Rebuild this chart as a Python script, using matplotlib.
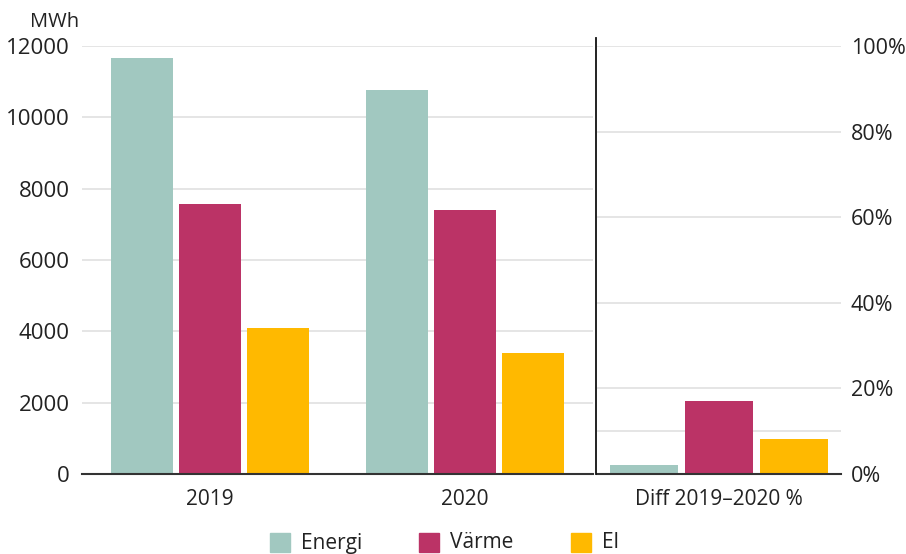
import numpy as np
import matplotlib
matplotlib.use("Agg")
import matplotlib.pyplot as plt
from matplotlib.patches import Rectangle
from matplotlib.lines import Line2D

plt.rcParams['font.family'] = ['Open Sans', 'DejaVu Sans']

years = ["2019", "2020"]
series = ["Energi", "Värme", "El"]
energi = [11650, 10770]
varme = [7570, 7400]
el = [4090, 3390]
diff_label = "Diff 2019–2020 %"
diff_pct = [2.1, 17.1, 8.2]
colors = ["#a1c8c0", "#bb3366", "#ffb900"]

left_ticks = [0, 2000, 4000, 6000, 8000, 10000, 12000]
right_ticks = [0, 20, 40, 60, 80, 100]
right_grid = [0, 10, 20, 40, 60, 80, 100]

W, H = 906, 554
fig = plt.figure(figsize=(W / 100, H / 100), dpi=100)
ax = fig.add_axes([82 / W, 80 / H, (593 - 82) / W, 428 / H])
ax2 = fig.add_axes([597 / W, 80 / H, (841 - 597) / W, 428 / H])

# left panel: MWh
x = np.arange(len(years))
bw, step = 0.243, 0.266
for i, vals in enumerate([energi, varme, el]):
    ax.bar(x + (i - 1) * step, vals, bw, color=colors[i], zorder=3)
ax.set_xlim(-0.5, 1.5)
ax.set_ylim(0, 12000)
ax.set_yticks(left_ticks)
ax.set_yticklabels([str(t) for t in left_ticks], fontsize=16, color="#222222")
ax.set_xticks(x)
ax.set_xticklabels(years, fontsize=15, color="#222222")
ax.tick_params(axis="y", length=0, pad=9)
ax.tick_params(axis="x", length=0, pad=11)
for t in left_ticks[1:]:
    ax.axhline(t, color="#e3e3e3", lw=1.3, zorder=1)
for s in ["top", "right", "left"]:
    ax.spines[s].set_visible(False)
ax.spines["bottom"].set_color("#333333")
ax.spines["bottom"].set_linewidth(1.5)
ax.spines["bottom"].set_zorder(4)

# right panel: difference in percent
bw2, step2 = 0.279, 0.307
for i, v in enumerate(diff_pct):
    ax2.bar((i - 1) * step2, v, bw2, color=colors[i], zorder=3)
ax2.set_xlim(-0.5, 0.5)
ax2.set_ylim(0, 100)
ax2.yaxis.tick_right()
ax2.set_yticks(right_ticks)
ax2.set_yticklabels([f"{t}%" for t in right_ticks], fontsize=15.5, color="#222222")
ax2.set_xticks([0])
ax2.set_xticklabels([diff_label], fontsize=15, color="#222222")
ax2.tick_params(axis="y", length=0, pad=7)
ax2.tick_params(axis="x", length=0, pad=11)
for t in right_grid[1:]:
    ax2.axhline(t, color="#e3e3e3", lw=1.3, zorder=1)
for s in ["top", "right", "left"]:
    ax2.spines[s].set_visible(False)
ax2.spines["bottom"].set_color("#333333")
ax2.spines["bottom"].set_linewidth(1.5)
ax2.spines["bottom"].set_zorder(4)

# separator between the panels
fig.add_artist(Line2D([596 / W, 596 / W], [80 / H, (H - 38) / H],
                      color="#111111", lw=1.3))

fig.text(30 / W, (H - 22) / H, "MWh", fontsize=14.5, color="#222222", va="center")

# legend along the bottom
leg_x = [270, 419, 571]
for i, name in enumerate(series):
    fig.add_artist(Rectangle((leg_x[i] / W, 2 / H), 20 / W, 19 / H,
                             color=colors[i], transform=fig.transFigure))
    fig.text((leg_x[i] + 31) / W, 11 / H, name, fontsize=15,
             color="#222222", va="center")

fig.savefig("out.png", dpi=100)
